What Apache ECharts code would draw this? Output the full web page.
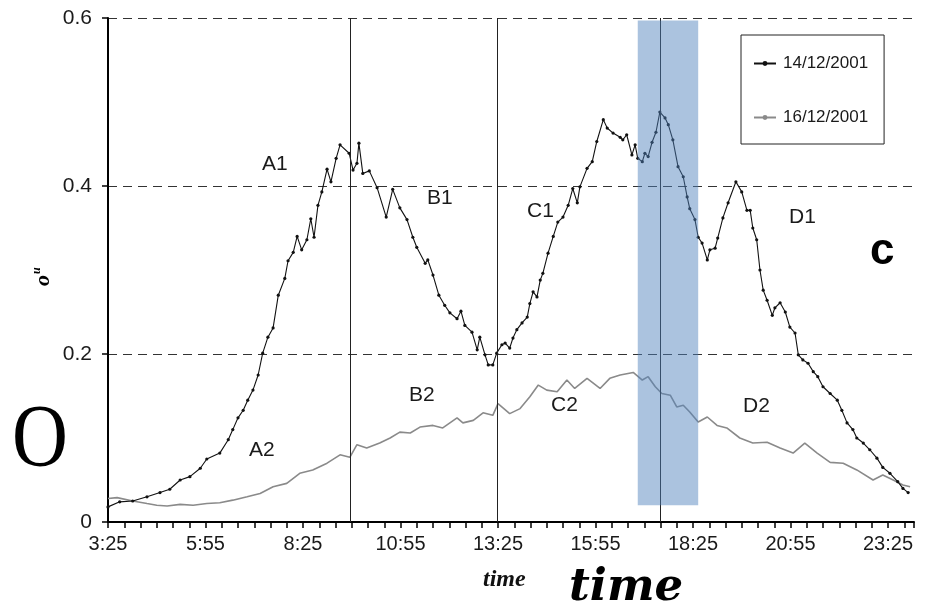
<!DOCTYPE html>
<html>
<head>
<meta charset="utf-8">
<script src="https://cdn.jsdelivr.net/npm/echarts@6/dist/echarts.min.js"></script>
<style>
	html, body { margin: 0; padding: 0; background: #fff; }
	#chart { width: 928px; height: 612px; }
</style>
</head>
<body>
<div id="chart"></div>
<script>
// 14/12/2001 曲线（黑色）
const times14 = ['3:25', '3:43', '4:03', '4:25', '4:45', '5:00', '5:16', '5:31', '5:47', '5:57', '6:17', '6:30', '6:37', '6:45', '6:53', '7:00', '7:08', '7:16', '7:23', '7:31', '7:39', '7:47', '7:57', '8:02', '8:10', '8:16', '8:23', '8:31', '8:37', '8:42', '8:48', '8:54', '9:02', '9:08', '9:16', '9:22', '9:36', '9:42', '9:48', '9:51', '9:57', '10:07', '10:19', '10:33', '10:43', '10:54', '11:05', '11:14', '11:20', '11:33', '11:37', '11:45', '11:54', '12:03', '12:11', '12:22', '12:28', '12:34', '12:45', '12:53', '12:57', '13:05', '13:10', '13:17', '13:23', '13:31', '13:36', '13:43', '13:48', '13:54', '14:02', '14:10', '14:14', '14:19', '14:25', '14:30', '14:34', '14:42', '14:50', '14:57', '15:05', '15:13', '15:20', '15:27', '15:31', '15:42', '15:50', '15:57', '16:07', '16:13', '16:22', '16:33', '16:37', '16:43', '16:51', '16:56', '17:00', '17:07', '17:11', '17:16', '17:22', '17:28', '17:34', '17:42', '17:47', '17:54', '18:02', '18:10', '18:16', '18:20', '18:28', '18:33', '18:39', '18:47', '18:51', '18:59', '19:03', '19:11', '19:19', '19:31', '19:40', '19:48', '19:53', '19:57', '20:03', '20:08', '20:13', '20:19', '20:27', '20:31', '20:39', '20:47', '20:54', '21:02', '21:07', '21:14', '21:22', '21:30', '21:37', '21:45', '21:56', '22:07', '22:14', '22:22', '22:31', '22:37', '22:47', '22:57', '23:08', '23:17', '23:28', '23:40', '23:48', '23:56'];
const values14 = [0.018, 0.024, 0.025, 0.030, 0.035, 0.039, 0.050, 0.054, 0.064, 0.075, 0.082, 0.098, 0.110, 0.124, 0.133, 0.145, 0.157, 0.175, 0.201, 0.220, 0.231, 0.270, 0.290, 0.311, 0.321, 0.340, 0.324, 0.336, 0.361, 0.339, 0.377, 0.393, 0.420, 0.405, 0.433, 0.449, 0.439, 0.419, 0.427, 0.451, 0.415, 0.418, 0.398, 0.363, 0.396, 0.374, 0.360, 0.339, 0.327, 0.308, 0.312, 0.294, 0.270, 0.258, 0.249, 0.242, 0.251, 0.234, 0.226, 0.205, 0.220, 0.199, 0.187, 0.187, 0.201, 0.211, 0.213, 0.207, 0.219, 0.229, 0.237, 0.244, 0.260, 0.274, 0.268, 0.288, 0.296, 0.320, 0.340, 0.357, 0.363, 0.377, 0.397, 0.380, 0.399, 0.421, 0.429, 0.453, 0.479, 0.469, 0.463, 0.458, 0.455, 0.461, 0.437, 0.449, 0.433, 0.429, 0.439, 0.435, 0.452, 0.464, 0.488, 0.481, 0.473, 0.455, 0.423, 0.411, 0.387, 0.373, 0.360, 0.339, 0.332, 0.312, 0.324, 0.326, 0.338, 0.362, 0.380, 0.405, 0.393, 0.371, 0.371, 0.350, 0.336, 0.300, 0.276, 0.264, 0.246, 0.255, 0.261, 0.250, 0.232, 0.225, 0.199, 0.193, 0.189, 0.179, 0.173, 0.161, 0.153, 0.145, 0.133, 0.118, 0.110, 0.100, 0.094, 0.086, 0.076, 0.065, 0.058, 0.048, 0.040, 0.035];

// 16/12/2001 曲线（灰色）
const times16 = ['3:25', '3:39', '4:03', '4:25', '4:40', '4:56', '5:16', '5:36', '5:57', '6:17', '6:37', '6:59', '7:19', '7:39', '8:00', '8:20', '8:40', '9:02', '9:22', '9:37', '9:48', '10:03', '10:23', '10:39', '10:54', '11:10', '11:25', '11:45', '12:00', '12:22', '12:31', '12:47', '13:02', '13:17', '13:25', '13:43', '13:59', '14:14', '14:27', '14:40', '14:56', '15:11', '15:23', '15:42', '16:02', '16:17', '16:33', '16:53', '17:07', '17:16', '17:27', '17:37', '17:50', '18:00', '18:10', '18:20', '18:33', '18:47', '19:02', '19:17', '19:37', '19:57', '20:19', '20:39', '20:59', '21:17', '21:36', '21:56', '22:16', '22:37', '23:02', '23:17', '23:33', '23:48', '23:59'];
const values16 = [0.028, 0.029, 0.025, 0.022, 0.020, 0.019, 0.021, 0.020, 0.022, 0.023, 0.026, 0.030, 0.034, 0.042, 0.046, 0.058, 0.062, 0.070, 0.080, 0.077, 0.092, 0.088, 0.094, 0.100, 0.107, 0.106, 0.113, 0.115, 0.112, 0.124, 0.118, 0.121, 0.130, 0.127, 0.141, 0.129, 0.135, 0.149, 0.163, 0.157, 0.155, 0.169, 0.159, 0.171, 0.159, 0.171, 0.175, 0.178, 0.169, 0.173, 0.161, 0.153, 0.151, 0.137, 0.139, 0.131, 0.119, 0.125, 0.115, 0.112, 0.100, 0.094, 0.095, 0.088, 0.082, 0.094, 0.082, 0.071, 0.070, 0.062, 0.050, 0.056, 0.050, 0.044, 0.042];

const seriesNames = ['14/12/2001', '16/12/2001'];
const dividerTimes = ['9:37', '13:24', '17:34']; // 竖线
const bandTimes = ['17:00', '18:33']; // 蓝色区域
const bandValues = [0.02, 0.597];
const yTicks = [0, 0.2, 0.4, 0.6];
const startTime = '3:25';

function toMin(s) {
	const [h, m] = s.split(':').map(Number);
	return h * 60 + m;
}
const t0 = toMin(startTime);
const off = (s) => toMin(s) - t0; // 距离 3:25 的分钟数
function fmt(v) {
	const t = v + t0;
	const m = t % 60;
	return Math.floor(t / 60) + ':' + (m < 10 ? '0' : '') + m;
}

const myChart = echarts.init(document.getElementById('chart'));
const labelFont = { fontFamily: 'Liberation Sans', fontSize: 21, fill: '#1a1a1a' };
const tag = (text, x, y) => ({
	type: 'text', left: x, top: y,
	style: Object.assign({ text }, labelFont),
});

myChart.setOption({
	animation: false,
	backgroundColor: '#fff',
	grid: { left: 108, right: 14, top: 18, bottom: 90 },
	legend: {
		data: seriesNames,
		orient: 'vertical',
		left: 741,
		top: 35,
		borderColor: '#222',
		borderWidth: 1,
		padding: [20, 16, 18, 12],
		itemGap: 37,
		itemWidth: 22,
		itemHeight: 6,
		textStyle: { fontFamily: 'Liberation Sans', fontSize: 17, color: '#1a1a1a', padding: [0, 0, 0, 2] },
	},
	xAxis: {
		type: 'value',
		min: 0,
		max: 1240,
		interval: 150,
		axisLine: { lineStyle: { color: '#000', width: 2 } },
		axisTick: { length: 6, lineStyle: { color: '#000', width: 1.5 } },
		minorTick: { show: true, splitNumber: 6, length: 6, lineStyle: { color: '#000', width: 1.5 } },
		splitLine: { show: false },
		axisLabel: {
			formatter: fmt,
			showMaxLabel: false,
			margin: 12,
			fontFamily: 'Liberation Sans',
			fontSize: 20,
			color: '#1a1a1a',
		},
	},
	yAxis: {
		type: 'value',
		min: yTicks[0],
		max: yTicks[yTicks.length - 1],
		interval: 0.2,
		axisLine: { show: true, lineStyle: { color: '#000', width: 2 } },
		axisTick: { show: true, length: 6, lineStyle: { color: '#000', width: 1.5 } },
		splitLine: { lineStyle: { color: '#333', width: 1.2, type: [9, 6] } },
		axisLabel: {
			formatter: (v) => String(Math.round(v * 10) / 10),
			margin: 16,
			fontFamily: 'Liberation Sans',
			fontSize: 21,
			color: '#1a1a1a',
		},
	},
	series: [
		{
			name: seriesNames[0],
			type: 'line',
			data: times14.map((t, i) => [off(t), values14[i]]),
			color: '#111',
			lineStyle: { width: 1.1, color: '#111' },
			symbol: 'circle',
			symbolSize: 3.2,
			showSymbol: true,
			itemStyle: { color: '#111' },
			z: 4,
			markLine: {
				silent: true,
				symbol: 'none',
				label: { show: false },
				lineStyle: { color: '#222', width: 1, type: 'solid' },
				data: dividerTimes.map((t) => ({ xAxis: off(t) })),
			},
		},
		{
			name: seriesNames[1],
			type: 'line',
			data: times16.map((t, i) => [off(t), values16[i]]),
			color: '#8a8a8a',
			lineStyle: { width: 1.6, color: '#8a8a8a' },
			symbol: 'circle',
			symbolSize: 2,
			showSymbol: false,
			z: 3,
		},
		{
			// 蓝色高亮区域，画在曲线之上
			type: 'line',
			data: [],
			z: 6,
			markArea: {
				silent: true,
				z: 10,
				itemStyle: { color: 'rgba(79,129,189,0.48)' },
				data: [[
					{ xAxis: off(bandTimes[0]), yAxis: bandValues[0] },
					{ xAxis: off(bandTimes[1]), yAxis: bandValues[1] },
				]],
			},
		},
	],
	graphic: [
		tag('A1', 262, 154),
		tag('B1', 427, 188),
		tag('C1', 527, 201),
		tag('D1', 789, 207),
		tag('A2', 249, 440),
		tag('B2', 409, 385),
		tag('C2', 551, 395),
		tag('D2', 743, 396),
		{
			type: 'text', left: 870, top: 230,
			style: { text: 'c', fontFamily: 'Liberation Sans', fontWeight: 'bold', fontSize: 44, fill: '#000' },
		},
		{
			type: 'text', x: 12, y: 398, scaleX: 0.88,
			style: { text: 'O', fontFamily: 'Liberation Serif', fontSize: 88, fill: '#000' },
		},
		{
			type: 'text', x: 31, y: 286, rotation: Math.PI / 2,
			style: {
				text: '{o|o}{u|u}',
				rich: {
					o: { fontFamily: 'Liberation Serif', fontStyle: 'italic', fontWeight: 'bold', fontSize: 22, fill: '#000' },
					u: { fontFamily: 'Liberation Serif', fontStyle: 'italic', fontWeight: 'bold', fontSize: 12, fill: '#000', verticalAlign: 'top', padding: [0, 0, 12, 1] },
				},
			},
		},
		{
			type: 'text', left: 483, top: 568,
			style: { text: 'time', fontFamily: 'Liberation Serif', fontStyle: 'italic', fontWeight: 'bold', fontSize: 24, fill: '#111' },
		},
		{
			type: 'text', left: 569, top: 566,
			style: { text: 'time', fontFamily: 'DejaVu Serif', fontStyle: 'italic', fontWeight: 'bold', fontSize: 45, fill: '#000' },
		},
	],
});
</script>
</body>
</html>
